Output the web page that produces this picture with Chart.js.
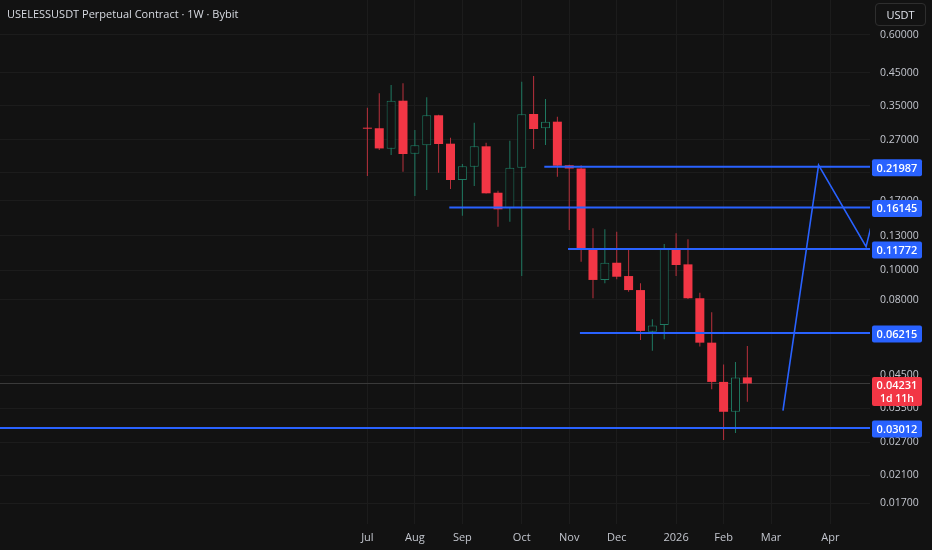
<!DOCTYPE html>
<html>
<head>
<meta charset="utf-8">
<script src="https://cdn.jsdelivr.net/npm/chart.js@4.4.1/dist/chart.umd.min.js"></script>
<style>
  html, body { margin:0; padding:0; background:#121212; }
  #wrap { position:relative; width:932px; height:550px; }
  #title { position:absolute; left:7px; top:6px; color:#d8dbe2; font:11px "Open Sans", sans-serif; }
  #unit { position:absolute; left:875px; top:3px; width:51px; height:23px; border:1px solid #2e2e2e; border-radius:4px;
          color:#e0e3eb; font:11px "Open Sans", sans-serif; text-align:center; line-height:22px; box-sizing:border-box; }
</style>
</head>
<body>
<div id="wrap">
  <canvas id="chart"></canvas>
  <div id="title">USELESSUSDT Perpetual Contract · 1W · Bybit</div>
  <div id="unit">USDT</div>
</div>
<script>
// ===============================
// DATA (weekly candles, week 0 = Jul 7 2025)
// ===============================

const weeks  = [0,1,2,3,4,5,6,7,8,9,10,11,12,13,14,15,16,17,18,19,20,21,22,23,24,25,26,27,28,29,30,31,32];
const opens  = [0.296,0.295,0.2525,0.3638,0.2431,0.2591,0.3256,0.2623,0.1990,0.2202,0.2571,0.1806,0.1604,0.2185,0.3288,0.2949,0.3101,0.2225,0.2172,0.1174,0.0930,0.1060,0.0958,0.0861,0.0627,0.0660,0.1177,0.1047,0.0809,0.0577,0.0428,0.0341,0.0443];
const highs  = [0.345,0.385,0.410,0.4153,0.2911,0.3734,0.327,0.2745,0.2247,0.3077,0.2643,0.1834,0.2683,0.4204,0.439,0.3685,0.3221,0.2235,0.2225,0.1378,0.1367,0.1343,0.1168,0.0907,0.0689,0.1223,0.1326,0.1267,0.0844,0.0727,0.0489,0.0498,0.0563];
const lows   = [0.205,0.250,0.2407,0.2119,0.1762,0.1844,0.2103,0.1858,0.1516,0.1901,0.1795,0.1395,0.1449,0.0958,0.2519,0.2597,0.2040,0.1360,0.1068,0.0809,0.0907,0.0935,0.0850,0.0589,0.0543,0.0592,0.0958,0.0805,0.0560,0.0405,0.0275,0.0290,0.0368];
const closes = [0.294,0.253,0.3638,0.2425,0.2591,0.3256,0.2617,0.1990,0.2208,0.2571,0.1798,0.1592,0.2185,0.3281,0.2933,0.3101,0.2218,0.2172,0.1172,0.0930,0.1060,0.0953,0.0861,0.0631,0.0657,0.1177,0.1042,0.0809,0.0577,0.0428,0.0341,0.0443,0.04231];

// month labels on the time axis
const monthWeeks  = [0,4,8,13,17,21,26,30,34,39];
const monthLabels = ["Jul","Aug","Sep","Oct","Nov","Dec","2026","Feb","Mar","Apr"];

// price axis ticks
const priceTicks = [0.6,0.45,0.35,0.27,0.21,0.17,0.13,0.10,0.08,0.045,0.035,0.027,0.021,0.017];

// horizontal levels and where they start
const levelPrices = [0.21987,0.16145,0.11772,0.06215,0.03012];
const levelStarts = [14.9,6.9,16.9,17.9,-40];

// projected path
const pathWeeks  = [35,38,42,43];
const pathPrices = [0.0344,0.223,0.1198,0.173];

const lastPrice = 0.04231;
const countdown = "1d 11h";

// ===============================
// COLORS
// ===============================
const BG    = "#121212";
const RED   = "#f23645";
const REDW  = "#b9303c";
const GREEN = "#1f7a62";
const BLUE  = "#2962ff";
const TXT   = "#c3c6ce";
const GRID  = "#1c1c1c";
const FONT  = "'Open Sans', sans-serif";

const isUp = weeks.map((w, i) => closes[i] >= opens[i]);

// ===============================
// PRICE BOXES ON THE AXIS
// ===============================
function roundBox(ctx, x, y, w, h, r) {
  ctx.beginPath();
  ctx.moveTo(x + r, y);
  ctx.lineTo(x + w - r, y);
  ctx.quadraticCurveTo(x + w, y, x + w, y + r);
  ctx.lineTo(x + w, y + h - r);
  ctx.quadraticCurveTo(x + w, y + h, x + w - r, y + h);
  ctx.lineTo(x + r, y + h);
  ctx.quadraticCurveTo(x, y + h, x, y + h - r);
  ctx.lineTo(x, y + r);
  ctx.quadraticCurveTo(x, y, x + r, y);
  ctx.closePath();
}

const priceLinePlugin = {
  id: "priceLine",
  beforeDatasetsDraw(chart) {
    const ctx = chart.ctx;
    const a = chart.chartArea;
    const py = Math.round(chart.scales.y.getPixelForValue(lastPrice)) + 0.5;
    ctx.save();
    ctx.strokeStyle = "#3a3a3a";
    ctx.lineWidth = 1;
    ctx.beginPath();
    ctx.moveTo(a.left, py);
    ctx.lineTo(a.right, py);
    ctx.stroke();
    ctx.restore();
  }
};

const boxPlugin = {
  id: "boxes",
  afterDraw(chart) {
    const ctx = chart.ctx;
    const ys = chart.scales.y;
    const x0 = chart.chartArea.right + 2;
    const w = 50;
    ctx.save();
    ctx.textAlign = "center";
    ctx.textBaseline = "middle";
    ctx.font = "600 11px " + FONT;

    levelPrices.forEach(p => {
      const py = ys.getPixelForValue(p) + 1;
      ctx.fillStyle = BLUE;
      roundBox(ctx, x0, py - 8.5, w, 17, 2);
      ctx.fill();
      ctx.fillStyle = "#ffffff";
      ctx.fillText(p.toFixed(5), x0 + w / 2, py + 0.5);
    });

    // current price + countdown
    const cy = ys.getPixelForValue(lastPrice);
    ctx.fillStyle = RED;
    roundBox(ctx, x0, cy - 6.5, w, 29, 2);
    ctx.fill();
    ctx.fillStyle = "#ffffff";
    ctx.fillText(lastPrice.toFixed(5), x0 + w / 2, cy + 2);
    ctx.font = "600 10.5px " + FONT;
    ctx.fillText(countdown, x0 + w / 2, cy + 15.5);
    ctx.restore();
  }
};

// ===============================
// CHART
// ===============================
const datasets = [];

// projected path
datasets.push({
  type: "line",
  data: pathWeeks.map((w, i) => ({ x: w, y: pathPrices[i] })),
  borderColor: BLUE,
  borderWidth: 1.6,
  pointRadius: 0,
  tension: 0,
  clip: 0,
  order: 0
});

// levels
levelPrices.forEach((p, i) => {
  datasets.push({
    type: "line",
    data: [{ x: levelStarts[i], y: p }, { x: 60, y: p }],
    borderColor: BLUE,
    borderWidth: 2,
    pointRadius: 0,
    clip: 0,
    order: 0
  });
});

// bodies
datasets.push({
  type: "bar",
  data: weeks.map((w, i) => ({ x: w, y: [opens[i], closes[i]] })),
  backgroundColor: weeks.map((w, i) => isUp[i] ? BG : RED),
  borderColor: weeks.map((w, i) => isUp[i] ? GREEN : RED),
  borderWidth: weeks.map((w, i) => isUp[i] ? 1 : 0),
  borderSkipped: false,
  barThickness: 9,
  minBarLength: 1,
  grouped: false,
  inflateAmount: 0,
  order: 1
});

// wicks
datasets.push({
  type: "bar",
  data: weeks.map((w, i) => ({ x: w, y: [lows[i], highs[i]] })),
  backgroundColor: weeks.map((w, i) => isUp[i] ? GREEN : REDW),
  borderWidth: 0,
  barThickness: 1,
  grouped: false,
  inflateAmount: 0,
  order: 2
});

new Chart(document.getElementById("chart"), {
  type: "bar",
  data: { datasets: datasets },
  plugins: [priceLinePlugin, boxPlugin],
  options: {
    responsive: true,
    maintainAspectRatio: false,
    animation: false,
    devicePixelRatio: 1,
    layout: { padding: 0, autoPadding: false },
    plugins: { legend: { display: false }, tooltip: { enabled: false } },
    scales: {
      x: {
        type: "linear",
        offset: false,
        min: -30.94,
        max: 42.33,
        afterFit: s => { s.height = 26; s.paddingLeft = 0; s.paddingRight = 0; },
        afterBuildTicks: s => { s.ticks = monthWeeks.map(v => ({ value: v })); },
        ticks: {
          color: TXT,
          font: { family: FONT, size: 11 },
          padding: 7,
          maxRotation: 0,
          autoSkip: false,
          callback: v => monthLabels[monthWeeks.indexOf(v)]
        },
        grid: { color: GRID, drawTicks: false, offset: false },
        border: { display: false }
      },
      y: {
        type: "logarithmic",
        position: "right",
        min: 0.014515,
        max: 0.78289,
        afterFit: s => { s.width = 62; s.paddingTop = 0; s.paddingBottom = 0; },
        afterBuildTicks: s => { s.ticks = priceTicks.map(v => ({ value: v })); },
        ticks: {
          color: TXT,
          font: { family: FONT, size: 10.5 },
          padding: 10,
          autoSkip: false,
          callback: v => Number(v).toFixed(5)
        },
        grid: { color: GRID, drawTicks: false },
        border: { display: false }
      }
    }
  }
});
</script>
</body>
</html>
